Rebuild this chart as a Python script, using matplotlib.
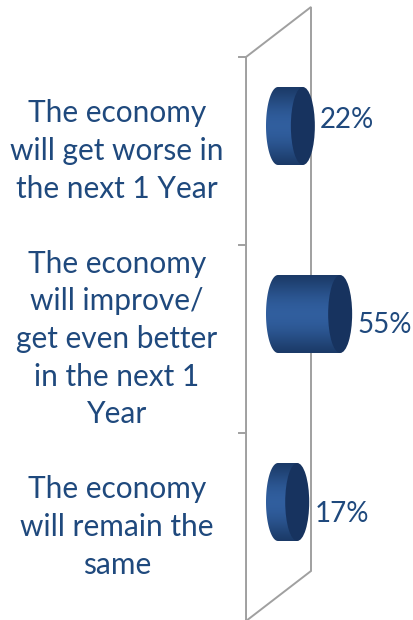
import matplotlib
matplotlib.use('Agg')
import matplotlib.pyplot as plt
import numpy as np
from matplotlib.patches import Ellipse, PathPatch
from matplotlib.path import Path

# Survey answers, top to bottom
categories = [
    "The economy\nwill get worse in\nthe next 1 Year",
    "The economy\nwill improve/\nget even better\nin the next 1\nYear",
    "The economy\nwill remain the\nsame",
]
values = [22, 55, 17]
value_labels = ["22%", "55%", "17%"]

TEXT = '#1F497D'
WALL = '#a0a0a0'
CAP = '#17335f'

W, H = 414, 620
PX_PER_PCT = 1.13      # horizontal scale, pixels per percent
ZERO_PX = 278          # pixel column of the 0% base
PX_PER_CAT = 188       # height of one category band
FIRST_PX = 151         # centre of the first band

fig = plt.figure(figsize=(W / 100, H / 100), dpi=100)
ax = fig.add_axes([0, 0, 1, 1])
ax.axis('off')

xlim = (-ZERO_PX / PX_PER_PCT, (W - ZERO_PX) / PX_PER_PCT)
ylim = ((H - FIRST_PX) / PX_PER_CAT, -FIRST_PX / PX_PER_CAT)

# 3-D look: depth shift of the back wall and bar sizes
depth_x = 57.5
depth_y = -0.266
wall_left = -28.3
bar_half_h = 39 / PX_PER_CAT
cap_rx = 12 / PX_PER_PCT
n = len(categories)

# slanted wall outline
xl, xr = wall_left, wall_left + depth_x
y_top, y_bot = -0.5, n - 0.5
ax.plot([xl, xl, xr, xr, xl], [y_bot, y_top, y_top + depth_y, y_bot + depth_y, y_bot],
        color=WALL, lw=1.4, solid_joinstyle='miter', zorder=1)
for i in range(n + 1):
    ax.plot([xl - 7 / PX_PER_PCT, xl], [i - 0.5, i - 0.5], color=WALL, lw=1.4, zorder=1)

# vertical shading for the cylinder body
t = np.linspace(0, 1, 200)
shade = 0.35 + 0.65 * np.sin(np.pi * t) ** 1.2
dark = np.array([0.06, 0.15, 0.29])
light = np.array([0.19, 0.37, 0.62])
grad = (dark[None, :] + (light - dark)[None, :] * shade[:, None])[:, None, :]

label_dy = [-6, 11, 12]
for i, (v, lab) in enumerate(zip(values, value_labels)):
    c = i + depth_y / 2
    top, bot = c - bar_half_h, c + bar_half_h
    # body: left half-ellipse plus straight part up to the end cap
    th = np.linspace(np.pi / 2, 3 * np.pi / 2, 60)
    pts = [(cap_rx * np.cos(a), c - bar_half_h * np.sin(a)) for a in th]
    pts += [(v, bot), (v, top), pts[0]]
    body = PathPatch(Path(pts), facecolor='none', edgecolor='none')
    ax.add_patch(body)
    im = ax.imshow(grad, extent=(-cap_rx, v, bot, top), origin='upper',
                   aspect='auto', zorder=2, interpolation='bilinear')
    im.set_clip_path(body)
    ax.add_patch(Ellipse((v, c), 2 * cap_rx, 2 * bar_half_h,
                         facecolor=CAP, edgecolor='none', zorder=3))
    ax.text(v + cap_rx + 5 / PX_PER_PCT, c + label_dy[i] / PX_PER_CAT, lab,
            ha='left', va='center', color=TEXT, fontsize=20, family='Lato')

for i, cat in enumerate(categories):
    ax.text((117 - ZERO_PX) / PX_PER_PCT, i, cat, ha='center', va='center',
            color=TEXT, fontsize=21.5, family='Lato', linespacing=1.42)

ax.set_xlim(*xlim)
ax.set_ylim(*ylim)
fig.savefig('out.png', dpi=100)
